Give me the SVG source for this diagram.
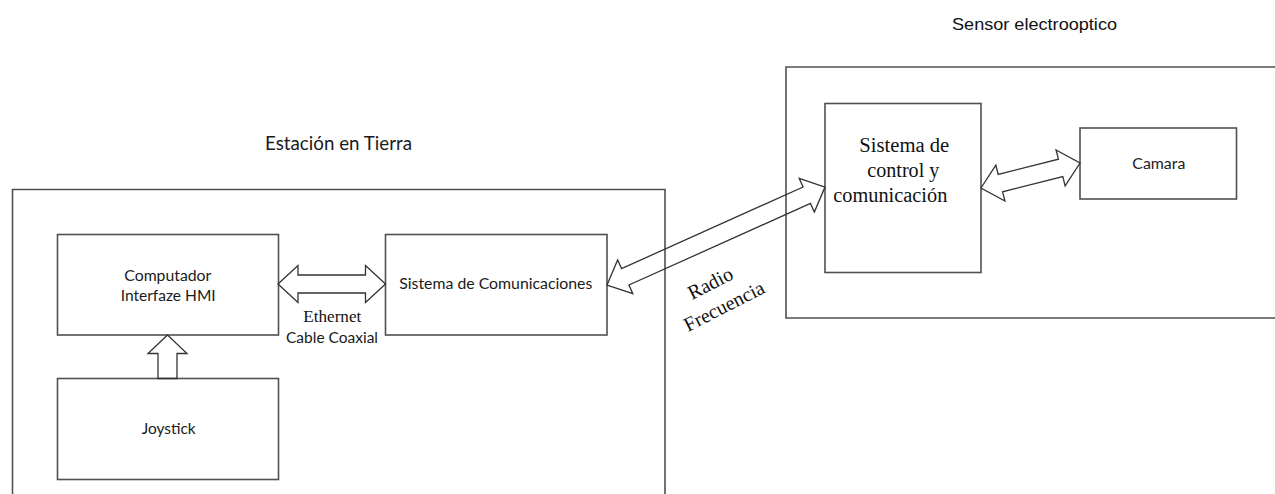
<svg xmlns="http://www.w3.org/2000/svg" width="1275" height="494" viewBox="0 0 1275 494">
<style>
.box{fill:none;stroke:#505050;stroke-width:1.6}
.arr{fill:none;stroke:#333;stroke-width:1.3;stroke-linejoin:miter}
.sans{font-family:Lato,"Open Sans","Noto Sans",sans-serif;font-size:15.5px;fill:#1a1a1a}
.serif{font-family:"Liberation Serif","Times New Roman",serif;font-size:20px;fill:#111}
.arial{font-family:"Liberation Sans",Arial,sans-serif;font-size:17px;fill:#111}
</style>
<rect width="1275" height="494" fill="#fff"/>
<g id="estacion-tierra">
<path class="box" d="M12.5,500 V189.5 H665 V500"/>
<text class="sans" x="265" y="150" style="font-size:19.5px" textLength="147" lengthAdjust="spacingAndGlyphs">Estación en Tierra</text>
</g>
<g id="sensor-electrooptico">
<path class="box" d="M1280,67 H786 V318 H1280"/>
<text class="arial" x="952" y="30" textLength="165" lengthAdjust="spacingAndGlyphs">Sensor electrooptico</text>
</g>
<g id="computador">
<rect class="box" x="57.5" y="234.5" width="221" height="100.5"/>
<text class="sans" x="124.3" y="281" textLength="87" lengthAdjust="spacingAndGlyphs">Computador</text>
<text class="sans" x="120.7" y="300.5" textLength="95" lengthAdjust="spacingAndGlyphs">Interfaze HMI</text>
</g>
<g id="joystick">
<rect class="box" x="57.5" y="378.5" width="221" height="101"/>
<text class="sans" x="141.7" y="434" textLength="54" lengthAdjust="spacingAndGlyphs">Joystick</text>
</g>
<g id="sistema-comunicaciones">
<rect class="box" x="385.5" y="234.5" width="221.5" height="100.5"/>
<text class="sans" x="399.3" y="289" textLength="193" lengthAdjust="spacingAndGlyphs">Sistema de Comunicaciones</text>
</g>
<g id="sistema-control">
<rect class="box" x="825" y="103.5" width="156" height="169"/>
<text class="serif" x="859.3" y="151.5" textLength="90" lengthAdjust="spacingAndGlyphs">Sistema de</text>
<text class="serif" x="867.3" y="176.5" textLength="72" lengthAdjust="spacingAndGlyphs">control y</text>
<text class="serif" x="833.3" y="201.5" textLength="114" lengthAdjust="spacingAndGlyphs">comunicación</text>
</g>
<g id="camara">
<rect class="box" x="1080" y="128" width="156.5" height="71"/>
<text class="sans" x="1132.3" y="169" textLength="53" lengthAdjust="spacingAndGlyphs">Camara</text>
</g>
<g id="connectors">
<polygon class="arr" points="167.5,335 187,353.5 177,353.5 177,378.5 158,378.5 158,353.5 148,353.5"/>
<polygon class="arr" transform="translate(278,284)" points="0,0 20,-18.5 20,-9 87.5,-9 87.5,-18.5 107.5,0 87.5,18.5 87.5,9 20,9 20,18.5"/>
<polygon class="arr" transform="translate(607,285) rotate(-24.2)" points="0,0 20,-18.5 20,-9 219,-9 219,-18.5 239,0 219,18.5 219,9 20,9 20,18.5"/>
<polygon class="arr" transform="translate(981,188) rotate(-14.17)" points="0,0 20,-18.5 20,-9 82.1,-9 82.1,-18.5 102.1,0 82.1,18.5 82.1,9 20,9 20,18.5"/>
<text class="serif" x="303.3" y="321.5" style="font-size:17px" textLength="58" lengthAdjust="spacingAndGlyphs">Ethernet</text>
<text class="sans" x="286" y="342.5" textLength="92" lengthAdjust="spacingAndGlyphs">Cable Coaxial</text>
<g transform="translate(692,300) rotate(-27)">
<text class="serif" x="0" y="0">Radio</text>
<text class="serif" x="-18" y="26.7">Frecuencia</text>
</g>
</g>
</svg>
